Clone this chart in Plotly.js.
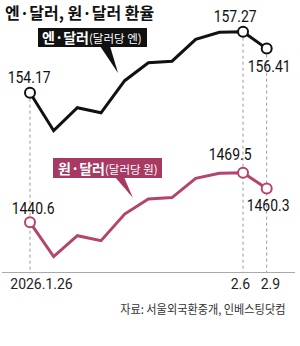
<!DOCTYPE html>
<html><head><meta charset="utf-8">
<script src="https://cdn.plot.ly/plotly-3.0.1.min.js"></script>
<style>html,body{margin:0;padding:0;background:#fff}#chart{width:300px;height:346px}</style>
</head><body><div id="chart"></div>
<script>
const dates = ['2026.1.26','1.27','1.28','1.29','1.30','2.2','2.3','2.4','2.5','2.6','2.9'];
const yen = [154.17,152.24,153.41,153.15,154.78,155.69,155.77,156.88,157.24,157.27,156.41];
const won = [1440.6,1420.6,1432.8,1429.9,1445.4,1454.2,1455.0,1466.2,1469.1,1469.5,1460.3];
const markIdx = [0,9,10];
const tickIdx = [0,9,10];
const tickLabels = ['2026.1.26','2.6','2.9'];
const yenLabels = ['154.17','157.27','156.41'];
const wonLabels = ['1440.6','1469.5','1460.3'];

const W=300,H=346, L=2, R=5, T=0, B=74;
const pw=W-L-R, ph=H-T-B;
const px=x=>(x-L)/pw, py=y=>(ph+T-y)/ph;
const xi = dates.map((d,i)=>i);
const yenRange=[145.06,158.88], wonRange=[1411.64,1570.1];
const RED='#b4446e', REDBOX='#a63a63';
const NUM="'Roboto',sans-serif";
const KR="'Noto Sans CJK KR',sans-serif";

const traces=[
 {x:xi,y:yen,type:'scatter',mode:'lines',line:{color:'#111',width:3},yaxis:'y',hoverinfo:'skip'},
 {x:xi,y:won,type:'scatter',mode:'lines',line:{color:RED,width:3},yaxis:'y2',hoverinfo:'skip'},
 {x:markIdx,y:markIdx.map(i=>yen[i]),type:'scatter',mode:'markers',marker:{size:10,color:'#fff',line:{color:'#111',width:2}},yaxis:'y',hoverinfo:'skip'},
 {x:markIdx,y:markIdx.map(i=>won[i]),type:'scatter',mode:'markers',marker:{size:10,color:'#fff',line:{color:RED,width:2}},yaxis:'y2',hoverinfo:'skip'}
];

const shapes=[];
markIdx.forEach(i=>shapes.push({type:'line',xref:'x',yref:'y',x0:i,x1:i,y0:yen[i],y1:yenRange[0],line:{color:'#999',width:1,dash:'dot'},layer:'below'}));
shapes.push({type:'rect',xref:'paper',yref:'paper',x0:px(38),x1:px(147),y0:py(28),y1:py(47),fillcolor:'#111',line:{width:0}});
shapes.push({type:'path',xref:'paper',yref:'paper',path:`M ${px(100)} ${py(46)} L ${px(110)} ${py(46)} L ${px(118)} ${py(73)} Z`,fillcolor:'#111',line:{width:0}});
shapes.push({type:'rect',xref:'paper',yref:'paper',x0:px(53),x1:px(162),y0:py(158),y1:py(178),fillcolor:REDBOX,line:{width:0}});
shapes.push({type:'path',xref:'paper',yref:'paper',path:`M ${px(115)} ${py(177)} L ${px(124)} ${py(177)} L ${px(133)} ${py(198)} Z`,fillcolor:REDBOX,line:{width:0}});

const ann=[];
ann.push({xref:'paper',yref:'paper',x:px(3),y:py(12),xanchor:'left',yanchor:'middle',showarrow:false,text:'<b>엔·달러, 원·달러 환율</b>',font:{family:KR,size:16,color:'#111'}});
ann.push({xref:'paper',yref:'paper',x:px(92),y:py(37.5),xanchor:'center',yanchor:'middle',showarrow:false,text:'<b>엔·달러</b><span style="font-size:11.5px">(달러당 엔)</span>',font:{family:KR,size:14,color:'#fff'}});
ann.push({xref:'paper',yref:'paper',x:px(107.5),y:py(168),xanchor:'center',yanchor:'middle',showarrow:false,text:'<b>원·달러</b><span style="font-size:11.5px">(달러당 원)</span>',font:{family:KR,size:14,color:'#fff'}});
const yenOff=[[-1,16],[-8,16],[2,-17]];
const wonOff=[[2.5,14],[-13,19],[1,-17]];
markIdx.forEach((i,k)=>{
 ann.push({xref:'x',yref:'y',x:i,y:yen[i],xshift:yenOff[k][0],yshift:yenOff[k][1],showarrow:false,text:yenLabels[k],font:{family:NUM,size:17,color:'#111'},xanchor:'center',yanchor:'middle'});
 ann.push({xref:'x',yref:'y2',x:i,y:won[i],xshift:wonOff[k][0],yshift:wonOff[k][1],showarrow:false,text:wonLabels[k],font:{family:NUM,size:17,color:'#111'},xanchor:'center',yanchor:'middle'});
});
const tickOff=[11,-3,4];
tickIdx.forEach((i,k)=>{
 ann.push({xref:'x',yref:'paper',x:i,y:py(284),xshift:tickOff[k],showarrow:false,text:tickLabels[k],font:{family:NUM,size:15,color:'#222'},xanchor:'center',yanchor:'middle'});
});
ann.push({xref:'paper',yref:'paper',x:px(294),y:py(308),xanchor:'right',yanchor:'middle',showarrow:false,text:'자료: 서울외국환중개, 인베스팅닷컴',font:{family:KR,size:12,color:'#333'}});

const layout={width:W,height:H,margin:{l:L,r:R,t:T,b:B,pad:0},paper_bgcolor:'#fff',plot_bgcolor:'#fff',showlegend:false,
 xaxis:{range:[(L-30)/23.67,(W-R-30)/23.67],showgrid:false,zeroline:false,showticklabels:false,ticks:'',showline:true,linecolor:'#aaa',linewidth:1,fixedrange:true},
 yaxis:{range:yenRange,visible:false,fixedrange:true},
 yaxis2:{range:wonRange,overlaying:'y',visible:false,fixedrange:true},
 shapes:shapes,annotations:ann};
Plotly.newPlot('chart',traces,layout,{staticPlot:true,displayModeBar:false}).then(()=>{
 const numSet=new Set(yenLabels.concat(wonLabels));
 const tickSet=new Set(tickLabels);
 document.querySelectorAll('#chart text.annotation-text').forEach(t=>{
  const s=t.textContent;
  let f=0;
  if(numSet.has(s)) f=0.82; else if(tickSet.has(s)) f=0.93; else if(s.startsWith('자료')) f=0.93;
  if(f){const w=t.getComputedTextLength();t.setAttribute('textLength',(w*f).toFixed(1));t.setAttribute('lengthAdjust','spacingAndGlyphs');}
 });
});
</script></body></html>
